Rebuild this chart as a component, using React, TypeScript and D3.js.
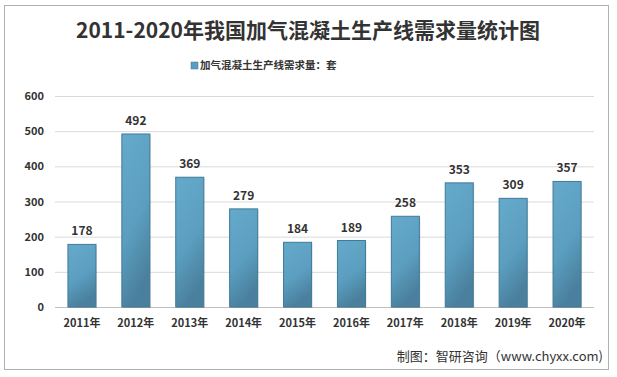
import React from "react";
import * as d3 from "d3";

const categories = ["2011年", "2012年", "2013年", "2014年", "2015年", "2016年", "2017年", "2018年", "2019年", "2020年"];
const values = [178, 492, 369, 279, 184, 189, 258, 353, 309, 357];
const yTicks = [0, 100, 200, 300, 400, 500, 600];
const title = "2011-2020年我国加气混凝土生产线需求量统计图";
const legendLabel = "加气混凝土生产线需求量：套";
const source = "制图：智研咨询（www.chyxx.com)";

export default function App() {
  const W = 617, H = 377;
  const left = 55, right = 594, top = 96, bottom = 307;
  const x = d3.scaleBand<string>().domain(categories).range([left, right]).paddingInner(0.48).paddingOuter(0.24);
  const y = d3.scaleLinear().domain([0, 600]).range([bottom, top]);
  const font = "'Microsoft YaHei', 'Noto Sans CJK SC', sans-serif";
  return (
    <svg width={W} height={H} style={{ position: "absolute", left: 0, top: 0 }} fontFamily={font}>
      <defs>
        <linearGradient id="bar" x1="0" y1="0" x2="0.3" y2="1">
          <stop offset="0" stopColor="#66aacb" />
          <stop offset="0.6" stopColor="#5b9ec0" />
          <stop offset="1" stopColor="#4a809d" />
        </linearGradient>
      </defs>
      <rect x={0} y={0} width={W} height={H} fill="#fff" />
      <rect x={4.5} y={5.5} width={604} height={364} fill="#fff" stroke="#b0b0b0" />
      <text x={308} y={38} textAnchor="middle" fontSize={21} fontWeight="bold" fill="#333">{title}</text>
      <rect x={191} y={62} width={7} height={7} fill="#5b9ec0" stroke="#3f7a97" strokeWidth={0.5} />
      <text x={200} y={69} fontSize={10.5} fontWeight="bold" fill="#333">{legendLabel}</text>
      {yTicks.map(t => (
        <g key={t}>
          <line x1={left} x2={right} y1={y(t) + 0.5} y2={y(t) + 0.5} stroke={t === 0 ? "#bfbfbf" : "#d9d9d9"} />
          <text x={44} y={y(t) + 4} textAnchor="end" fontSize={11} fontWeight="bold" fill="#333">{t}</text>
        </g>
      ))}
      {categories.map((c, i) => {
        const bx = x(c)!;
        const by = y(values[i]);
        return (
          <g key={c}>
            <rect x={bx + 1} y={by + 1} width={x.bandwidth()} height={bottom - by} fill="#000" opacity={0.12} />
            <rect x={bx} y={by} width={x.bandwidth()} height={bottom - by} fill="url(#bar)" stroke="#3f7a97" strokeWidth={1} />
            <text x={bx + x.bandwidth() / 2} y={by - 9} textAnchor="middle" fontSize={12} fontWeight="bold" fill="#333">{values[i]}</text>
            <text x={bx + x.bandwidth() / 2} y={327} textAnchor="middle" fontSize={11} fontWeight="bold" fill="#333">{c}</text>
          </g>
        );
      })}
      <text x={603} y={361} textAnchor="end" fontSize={13} fill="#333">{source}</text>
    </svg>
  );
}
